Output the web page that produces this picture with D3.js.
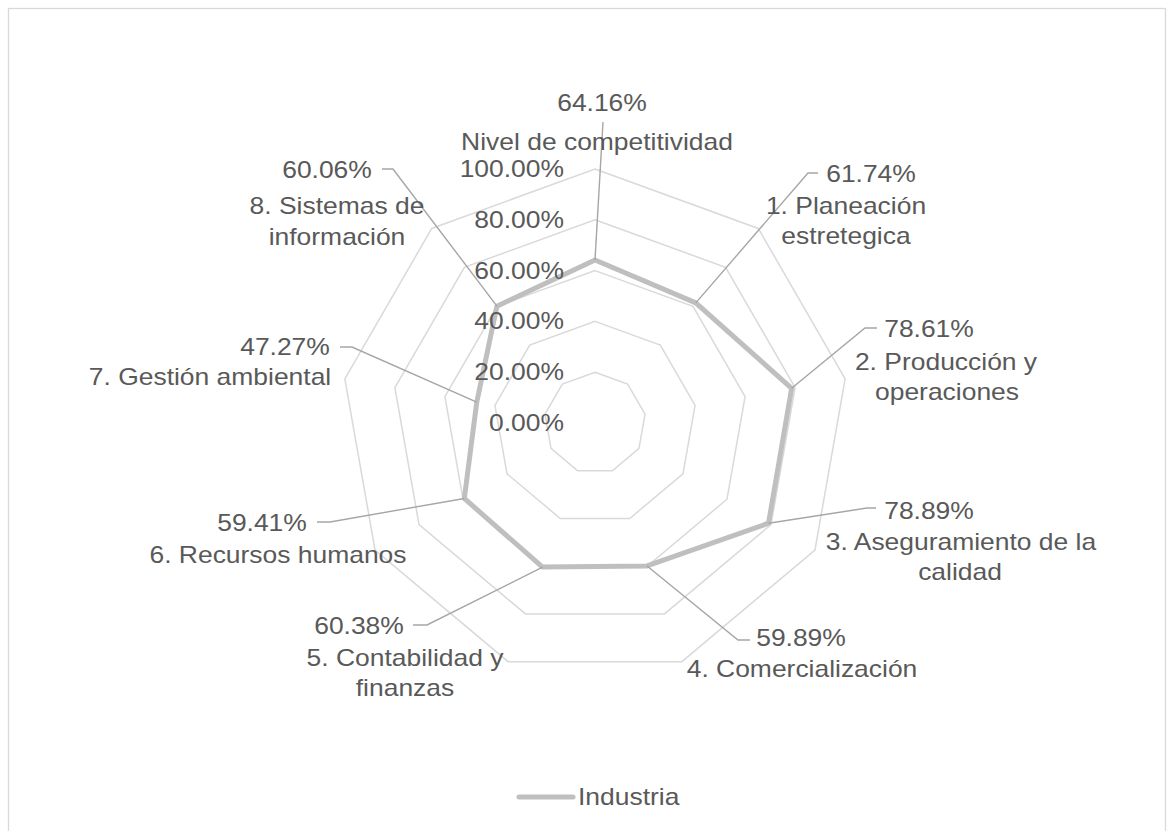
<!DOCTYPE html>
<html>
<head>
<meta charset="utf-8">
<script src="https://cdn.jsdelivr.net/npm/d3@7/dist/d3.min.js"></script>
<style>
  html, body { margin: 0; padding: 0; background: #ffffff; }
  svg { display: block; }
</style>
</head>
<body>
<script>
// ---------- data ----------
const categories = [
  "Nivel de competitividad",
  "1. Planeación\nestretegica",
  "2. Producción y\noperaciones",
  "3. Aseguramiento de la\ncalidad",
  "4. Comercialización",
  "5. Contabilidad y\nfinanzas",
  "6. Recursos humanos",
  "7. Gestión ambiental",
  "8. Sistemas de\ninformación"
];
const seriesName = "Industria";
const industria = [0.6416, 0.6174, 0.7861, 0.7889, 0.5989, 0.6038, 0.5941, 0.4727, 0.6006];
const tickValues = [0, 0.2, 0.4, 0.6, 0.8, 1.0];

// ---------- layout (manually placed data labels, as in the original) ----------
const labelLayout = [
  { value: [602, 111], lines: [[597, 150]], knee: [603, 122], tail: null },
  { value: [871, 182], lines: [[846, 214], [846, 244]], knee: [808, 173], tail: [818, 173] },
  { value: [929, 337], lines: [[946, 370], [947, 400]], knee: [865, 328], tail: [877, 328] },
  { value: [929, 519], lines: [[961, 550], [960, 580]], knee: [867, 508], tail: [876, 508] },
  { value: [801, 646], lines: [[802, 677]], knee: [738, 640], tail: [750, 640] },
  { value: [359, 634], lines: [[405, 666], [405, 696]], knee: [427, 625], tail: [413, 625] },
  { value: [262, 531], lines: [[278, 563]], knee: [330, 522], tail: [317, 522] },
  { value: [285, 355], lines: [[210, 385]], knee: [352, 347], tail: [340, 347] },
  { value: [327, 178], lines: [[337, 214], [337, 245]], knee: [393, 169], tail: [382, 169] }
];

const W = 1174, H = 831;
const cx = 595, cy = 423, R = 254;
const textColor = "#595959";
const fontFamily = "'Liberation Sans', Arial, sans-serif";
const fontSize = 23;
const stretch = 1.15;

const svg = d3.select("body").append("svg")
  .attr("width", W).attr("height", H);

// chart border
svg.append("rect")
  .attr("x", 8.5).attr("y", 8.5)
  .attr("width", 1157).attr("height", 840)
  .attr("fill", "none").attr("stroke", "#d9d9d9").attr("stroke-width", 1.3);

const r = d3.scaleLinear().domain([0, 1]).range([0, R]);
const angle = d3.scaleLinear().domain([0, categories.length]).range([0, 2 * Math.PI]);
const fmt = d3.format(".2%");

const g = svg.append("g").attr("transform", `translate(${cx},${cy})`);

const radial = d3.lineRadial()
  .curve(d3.curveLinearClosed);

// grid rings
g.append("g").selectAll("path")
  .data(tickValues.filter(v => v > 0))
  .join("path")
  .attr("d", v => radial.angle((d, i) => angle(i)).radius(() => r(v))(categories))
  .attr("fill", "none")
  .attr("stroke", "#d9d9d9")
  .attr("stroke-width", 1.5);

// data series
g.append("path")
  .datum(industria)
  .attr("d", radial.angle((d, i) => angle(i)).radius(d => r(d)))
  .attr("fill", "none")
  .attr("stroke", "#bfbfbf")
  .attr("stroke-width", 5)
  .attr("stroke-linejoin", "round");

function pointOf(i) {
  const a = angle(i), rr = r(industria[i]);
  return [cx + rr * Math.sin(a), cy - rr * Math.cos(a)];
}

// text helper with horizontal stretch
function addText(parent, x, y, str, anchor) {
  parent.append("text")
    .attr("transform", `translate(${x},${y}) scale(${stretch},1)`)
    .attr("text-anchor", anchor)
    .attr("font-family", fontFamily)
    .attr("font-size", fontSize)
    .attr("fill", textColor)
    .text(str);
}

// tick labels
const tickG = svg.append("g");
tickValues.forEach(v => {
  addText(tickG, 564, cy - r(v) + 8, fmt(v), "end");
});

// leader lines
const leaderG = svg.append("g");
industria.forEach((v, i) => {
  const p = pointOf(i);
  const L = labelLayout[i];
  const pts = [p, L.knee];
  if (L.tail) pts.push(L.tail);
  leaderG.append("path")
    .attr("d", d3.line()(pts))
    .attr("fill", "none")
    .attr("stroke", "#a6a6a6")
    .attr("stroke-width", 1.4);
});

// data labels
const labelG = svg.append("g");
industria.forEach((v, i) => {
  const L = labelLayout[i];
  addText(labelG, L.value[0], L.value[1], fmt(v), "middle");
  const lines = categories[i].split("\n");
  lines.forEach((ln, k) => {
    addText(labelG, L.lines[k][0], L.lines[k][1], ln, "middle");
  });
});

// legend
const legG = svg.append("g");
legG.append("line")
  .attr("x1", 519).attr("x2", 573)
  .attr("y1", 797).attr("y2", 797)
  .attr("stroke", "#bfbfbf").attr("stroke-width", 5)
  .attr("stroke-linecap", "round");
addText(legG, 578, 805, seriesName, "start");
</script>
</body>
</html>
